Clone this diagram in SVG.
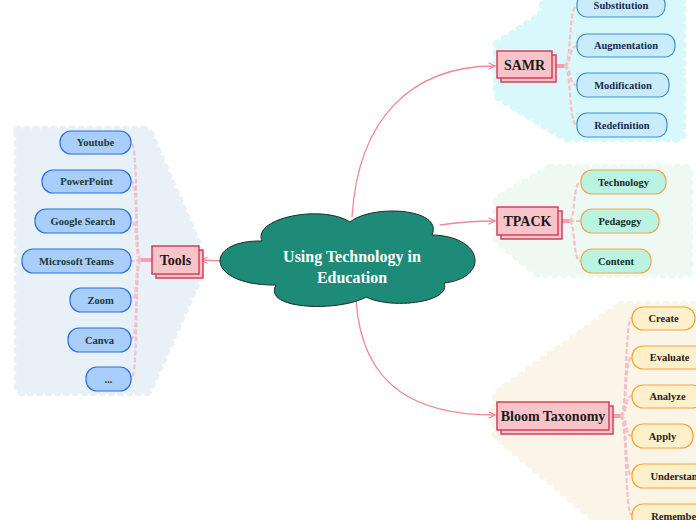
<svg xmlns="http://www.w3.org/2000/svg" width="696" height="520" viewBox="0 0 696 520">
<style>
.bg{stroke-width:9;stroke-dasharray:0 9;stroke-linecap:round;stroke-linejoin:round}
.topic{fill:#f8c4c9;stroke:#d2405c;stroke-width:1.5}
.tt{font-family:"Liberation Serif",serif;font-weight:bold;font-size:14px;fill:#1a1a1a;text-anchor:middle}
.ct{font-family:"Liberation Serif",serif;font-weight:bold;font-size:10.5px;text-anchor:middle}
.samr rect{fill:#c8ecfc;stroke:#3f8fd6;stroke-width:1.2}
.samr text{fill:#1a2a50}
.tp rect{fill:#b9f3e2;stroke:#f0a848;stroke-width:1.2}
.tp text{fill:#1a2a2a}
.bl rect{fill:#fff0cc;stroke:#f4a434;stroke-width:1.2}
.bl text{fill:#2a2010}
.tl rect{fill:#a9cefc;stroke:#2b6fe0;stroke-width:1.2}
.tl text{fill:#1a3a30}
.main{fill:none;stroke:#f08898;stroke-width:1.3}
.stub{fill:none;stroke:#f4a0b0;stroke-width:4}
.br{fill:none;stroke:#f6c0ca;stroke-width:2.2;stroke-dasharray:5 2}
</style>
<defs>
<marker id="arr" viewBox="0 0 10 10" refX="9" refY="5" markerWidth="8" markerHeight="8" orient="auto" markerUnits="userSpaceOnUse">
<path d="M1,1 L9,5 L1,9" fill="none" stroke="#f08898" stroke-width="1.5"/>
</marker>
</defs>

<g id="backgrounds">
<polygon class="bg" fill="#d8f8fc" stroke="#d8f8fc" points="546,-8 682,-8 682,138 566,138 497,96 497,44 541,16"/>
<polygon class="bg" fill="#eef9f3" stroke="#eef9f3" points="551,168 689,168 689,274 538,274 497,240 497,199"/>
<polygon class="bg" fill="#faf5e8" stroke="#faf5e8" points="621,305 704,305 704,528 606,528 496,436 496,394"/>
<polygon class="bg" fill="#e8f1f7" stroke="#e8f1f7" points="18,130 148,130 199,247 199,277 148,392 18,392"/>
</g>

<g id="connectors">
<path class="main" d="M352,217 C358,120 410,66 495,66" marker-end="url(#arr)"/>
<path class="main" d="M440,225 C460,222 475,221 495,221" marker-end="url(#arr)"/>
<path class="main" d="M356,300 C362,390 420,415 495,415" marker-end="url(#arr)"/>
<path class="main" d="M222,261 L201,260" marker-end="url(#arr)"/>
<!-- SAMR branches -->
<path class="stub" d="M553,66 L565,66"/>
<path class="br" d="M564,66 C572,66 568,6 577,6"/>
<path class="br" d="M564,66 C572,66 568,46 577,46"/>
<path class="br" d="M564,66 C572,66 568,85 577,85"/>
<path class="br" d="M564,66 C572,66 568,125 577,125"/>
<!-- TPACK branches -->
<path class="stub" d="M558,221 L570,221"/>
<path class="br" d="M569,221 C576,221 572,182 581,182"/>
<path class="br" d="M569,221 C576,221 572,221 581,221"/>
<path class="br" d="M569,221 C576,221 572,261 581,261"/>
<!-- Bloom branches -->
<path class="stub" d="M609,416 L621,416"/>
<path class="br" d="M620,416 C628,416 624,318 632,318"/>
<path class="br" d="M620,416 C628,416 624,357 632,357"/>
<path class="br" d="M620,416 C628,416 624,396 632,396"/>
<path class="br" d="M620,416 C628,416 624,436 632,436"/>
<path class="br" d="M620,416 C628,416 624,476 632,476"/>
<path class="br" d="M620,416 C628,416 624,515 632,515"/>
<!-- Tools branches -->
<path class="stub" d="M152,260 L140,260"/>
<path class="br" d="M141,260 C134,260 139,142 131,142"/>
<path class="br" d="M141,260 C134,260 139,181 131,181"/>
<path class="br" d="M141,260 C134,260 139,221 131,221"/>
<path class="br" d="M141,260 C134,260 139,261 131,261"/>
<path class="br" d="M141,260 C134,260 139,300 131,300"/>
<path class="br" d="M141,260 C134,260 139,340 131,340"/>
<path class="br" d="M141,260 C134,260 139,379 131,379"/>
</g>

<g id="center">
<path d="M262,241 C252,218 322,204 350,222 C372,204 444,208 432,235 C484,236 490,278 444,283 C452,302 392,310 366,297 C340,312 262,310 276,285 C206,286 202,240 262,241 Z" fill="#1e8a78" stroke="#1a2e28" stroke-width="1"/>
<text x="352" y="262" font-family="Liberation Serif,serif" font-weight="bold" font-size="16" fill="#ffffff" text-anchor="middle">Using Technology in</text>
<text x="352" y="283" font-family="Liberation Serif,serif" font-weight="bold" font-size="16" fill="#ffffff" text-anchor="middle">Education</text>
</g>

<g id="samr">
<rect class="topic" x="501" y="55" width="55" height="27"/>
<rect class="topic" x="497" y="51" width="55" height="27"/>
<text class="tt" x="524.5" y="69.5">SAMR</text>
</g>
<g id="samr-children" class="samr">
<g id="substitution"><rect x="577" y="-6" width="88" height="23" rx="10"/><text class="ct" x="621" y="9">Substitution</text></g>
<g id="augmentation"><rect x="577" y="34" width="98" height="23" rx="10"/><text class="ct" x="626" y="49">Augmentation</text></g>
<g id="modification"><rect x="577" y="73" width="92" height="24" rx="10"/><text class="ct" x="623" y="89">Modification</text></g>
<g id="redefinition"><rect x="577" y="113" width="90" height="24" rx="10"/><text class="ct" x="622" y="129">Redefinition</text></g>
</g>

<g id="tpack">
<rect class="topic" x="501" y="211" width="61" height="28"/>
<rect class="topic" x="497" y="207" width="61" height="28"/>
<text class="tt" x="527.5" y="226">TPACK</text>
</g>
<g id="tpack-children" class="tp">
<g id="technology"><rect x="581" y="170" width="85" height="24" rx="11"/><text class="ct" x="623.5" y="186">Technology</text></g>
<g id="pedagogy"><rect x="581" y="209" width="78" height="24" rx="11"/><text class="ct" x="620" y="225">Pedagogy</text></g>
<g id="content"><rect x="581" y="249" width="70" height="24" rx="11"/><text class="ct" x="616" y="265">Content</text></g>
</g>

<g id="bloom">
<rect class="topic" x="501" y="406" width="112" height="28"/>
<rect class="topic" x="497" y="402" width="112" height="28"/>
<text class="tt" x="553" y="421">Bloom Taxonomy</text>
</g>
<g id="bloom-children" class="bl">
<g id="create"><rect x="632" y="307" width="63" height="23" rx="11"/><text class="ct" x="663.5" y="322">Create</text></g>
<g id="evaluate"><rect x="632" y="346" width="75" height="23" rx="11"/><text class="ct" x="669.5" y="361">Evaluate</text></g>
<g id="analyze"><rect x="632" y="385" width="71" height="23" rx="11"/><text class="ct" x="667.5" y="400">Analyze</text></g>
<g id="apply"><rect x="632" y="424" width="61" height="24" rx="11"/><text class="ct" x="662.5" y="440">Apply</text></g>
<g id="understand"><rect x="632" y="464" width="90" height="24" rx="11"/><text class="ct" x="677" y="480">Understand</text></g>
<g id="remember"><rect x="632" y="504" width="88" height="24" rx="11"/><text class="ct" x="676" y="520">Remember</text></g>
</g>

<g id="tools">
<rect class="topic" x="156" y="250" width="47" height="28"/>
<rect class="topic" x="152" y="246" width="47" height="28"/>
<text class="tt" x="175.5" y="265">Tools</text>
</g>
<g id="tools-children" class="tl">
<g id="youtube"><rect x="60" y="131" width="71" height="23" rx="11"/><text class="ct" x="95.5" y="146">Youtube</text></g>
<g id="powerpoint"><rect x="42" y="170" width="89" height="23" rx="11"/><text class="ct" x="86.5" y="185">PowerPoint</text></g>
<g id="google-search"><rect x="35" y="209" width="96" height="24" rx="11"/><text class="ct" x="83" y="225">Google Search</text></g>
<g id="microsoft-teams"><rect x="22" y="249" width="109" height="24" rx="11"/><text class="ct" x="76.5" y="265">Microsoft Teams</text></g>
<g id="zoom"><rect x="70" y="288" width="61" height="24" rx="11"/><text class="ct" x="100.5" y="304">Zoom</text></g>
<g id="canva"><rect x="68" y="328" width="63" height="24" rx="11"/><text class="ct" x="99.5" y="344">Canva</text></g>
<g id="more"><rect x="86" y="367" width="45" height="24" rx="11"/><text class="ct" x="108.5" y="383">...</text></g>
</g>
</svg>
